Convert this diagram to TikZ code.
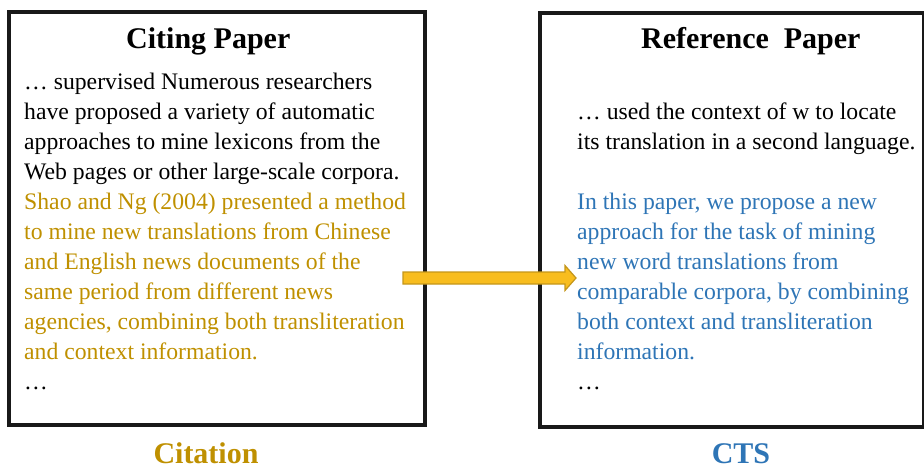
\documentclass[tikz,border=0pt]{standalone}
\usepackage{fontspec}
\setmainfont{Liberation Serif}
\definecolor{citegold}{HTML}{BF9000}
\definecolor{ctsblue}{HTML}{2E75B6}
\definecolor{arrowfill}{HTML}{F8BD1E}
\definecolor{arrowedge}{HTML}{C4961A}
\begin{document}
\begin{tikzpicture}[x=1pt,y=-1pt,
  paperbox/.style={draw=black!90,line width=4pt},
  headline/.style={anchor=base west,inner sep=0,font=\fontsize{30}{36}\selectfont\bfseries},
  bodyline/.style={anchor=base west,inner sep=0,font=\fontsize{23.7}{30}\selectfont},
  caption/.style={anchor=base,inner sep=0,font=\fontsize{30}{36}\selectfont\bfseries},
  linkarrow/.style={fill=arrowfill,draw=arrowedge,line width=1.2pt,line join=miter}]
\useasboundingbox (0,0) rectangle (924,469);

% paper frames
\node[paperbox,inner sep=0,minimum width=416,minimum height=413,anchor=north west] (citing) at (7,10) {};
\node[paperbox,inner sep=0,minimum width=384,minimum height=414,anchor=north west] (reference) at (538,11) {};

% citing paper
\node[headline] (ct) at (126,48) {Citing Paper};
\node[bodyline] (c1) at (24,89) {… supervised Numerous researchers};
\node[bodyline] (c2) at (24,119) {have proposed a variety of automatic};
\node[bodyline] (c3) at (24,149) {approaches to mine lexicons from the};
\node[bodyline] (c4) at (24,179) {Web pages or other large-scale corpora.};
\begin{scope}[every node/.append style={text=citegold}]
\node[bodyline] (c5) at (24,209) {Shao and Ng (2004) presented a method};
\node[bodyline] (c6) at (24,239) {to mine new translations from Chinese};
\node[bodyline] (c7) at (24,269) {and English news documents of the};
\node[bodyline] (c8) at (24,299) {same period from different news};
\node[bodyline] (c9) at (24,329) {agencies, combining both transliteration};
\node[bodyline] (c10) at (24,359) {and context information.};
\end{scope}
\node[bodyline] (c11) at (24,389) {…};

% reference paper
\node[headline] (rt) at (641,48) {Reference\ \ Paper};
\node[bodyline] (r1) at (577,119) {… used the context of w to locate};
\node[bodyline] (r2) at (577,149) {its translation in a second language.};
\begin{scope}[every node/.append style={text=ctsblue}]
\node[bodyline] (r3) at (577,209) {In this paper, we propose a new};
\node[bodyline] (r4) at (577,239) {approach for the task of mining};
\node[bodyline] (r5) at (577,269) {new word translations from};
\node[bodyline] (r6) at (577,299) {comparable corpora, by combining};
\node[bodyline] (r7) at (577,329) {both context and transliteration};
\node[bodyline] (r8) at (577,359) {information.};
\end{scope}
\node[bodyline] (r9) at (577,389) {…};

% captions
\node[caption,text=citegold] (citlabel) at (206,463) {Citation};
\node[caption,text=ctsblue] (ctslabel) at (741,463) {CTS};

% block arrow from the citation to the cited paper
\coordinate (tail) at (403,278);
\coordinate (tip) at (576,278);
\path[linkarrow] ([yshift=-6]tail) -- ([xshift=-11,yshift=-6]tip) -- ([xshift=-11,yshift=-12.5]tip)
  -- (tip) -- ([xshift=-11,yshift=12.5]tip) -- ([xshift=-11,yshift=6]tip) -- ([yshift=6]tail) -- cycle;
\end{tikzpicture}
\end{document}
